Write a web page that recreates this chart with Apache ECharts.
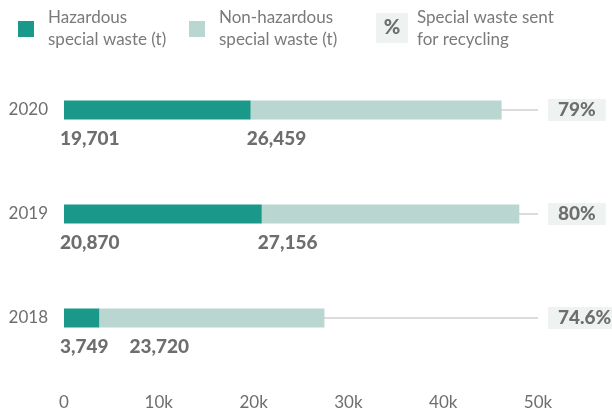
<!DOCTYPE html>
<html><head><meta charset="utf-8">
<script src="https://cdn.jsdelivr.net/npm/echarts@6/dist/echarts.min.js"></script>
<style>html,body{margin:0;padding:0;background:#fff}#c{width:612px;height:412px}</style>
</head><body><div id="c"></div>
<script>
const years = ['2020', '2019', '2018'];
const hazardous = [19701, 20870, 3749];
const nonHazardous = [26459, 27156, 23720];
const recyclingPct = ['79%', '80%', '74.6%'];
const xTicks = [0, 10000, 20000, 30000, 40000, 50000];

const FONT = 'Lato';
const GRAY = '#6e6e6e';
const LEGEND_GRAY = '#7a7a7a';
const chart = echarts.init(document.getElementById('c'), null, {renderer: 'canvas'});

const makeLabel = () => ({
  show: true,
  position: ['0%', '100%'],
  align: 'left', verticalAlign: 'top',
  offset: [-4, 10],
  fontFamily: FONT, fontWeight: 900, fontSize: 19, color: GRAY,
  formatter: p => p.value.toLocaleString('en-US')
});

const legendText = {fontFamily: FONT, fontSize: 17, color: LEGEND_GRAY, lineHeight: 22, padding: [6, 0, 0, 9]};

chart.setOption({
  animation: false,
  grid: {left: 64, right: 74, top: 58, bottom: 42, outerBoundsMode: 'none', containLabel: false},
  legend: [{
    left: 18, top: 4, padding: 0, icon: 'rect', itemWidth: 16, itemHeight: 16, selectedMode: false,
    textStyle: legendText,
    data: ['Hazardous\nspecial waste (t)']
  }, {
    left: 189, top: 4, padding: 0, icon: 'rect', itemWidth: 16, itemHeight: 16, selectedMode: false,
    textStyle: legendText,
    data: ['Non-hazardous\nspecial waste (t)']
  }],
  xAxis: {
    type: 'value', min: 0, max: 50000, interval: 10000,
    axisLine: {show: false}, axisTick: {show: false}, splitLine: {show: false},
    axisLabel: {margin: 24, fontFamily: FONT, fontSize: 17, color: GRAY,
      formatter: v => xTicks.includes(v) ? (v === 0 ? '0' : (v / 1000) + 'k') : ''}
  },
  yAxis: [{
    type: 'category', data: years, inverse: true,
    axisLine: {show: false}, axisTick: {show: false},
    axisLabel: {margin: 16, fontFamily: FONT, fontSize: 17, color: GRAY}
  }, {
    type: 'category', data: years, inverse: true, position: 'right',
    axisLine: {show: false}, axisTick: {show: false},
    axisLabel: {margin: 10, align: 'left', fontFamily: FONT, fontWeight: 900, fontSize: 19, lineHeight: 18, color: GRAY,
      backgroundColor: '#eef3f2', padding: [3, 10, 1, 10],
      formatter: (v, i) => recyclingPct[i]}
  }],
  series: [{
    name: 'Hazardous\nspecial waste (t)', type: 'bar', stack: 'w', barWidth: 19, z: 3,
    itemStyle: {color: '#1a998a'},
    label: makeLabel(),
    data: hazardous,
    markLine: {
      silent: true, symbol: 'none', z: 1,
      lineStyle: {color: '#dcdcdc', width: 2, type: 'solid'},
      label: {show: false},
      data: years.map(y => ({yAxis: y}))
    }
  }, {
    name: 'Non-hazardous\nspecial waste (t)', type: 'bar', stack: 'w', barWidth: 19, z: 3,
    itemStyle: {color: '#b9d6d0'},
    label: makeLabel(),
    data: nonHazardous.map((v, i) => i === 2 ? {value: v, label: {offset: [30, 10]}} : v)
  }],
  graphic: [
    {type: 'rect', left: 376, top: 13, shape: {width: 32, height: 30}, style: {fill: '#eef3f2'}},
    {type: 'text', x: 392, y: 28, style: {text: '%', fontFamily: FONT, fontWeight: 900, fontSize: 20, fill: GRAY, align: 'center', verticalAlign: 'middle'}},
    {type: 'text', x: 417, y: 7, style: {text: 'Special waste sent\nfor recycling', fontFamily: FONT, fontSize: 17, lineHeight: 22, fill: LEGEND_GRAY}}
  ]
});
</script></body></html>
